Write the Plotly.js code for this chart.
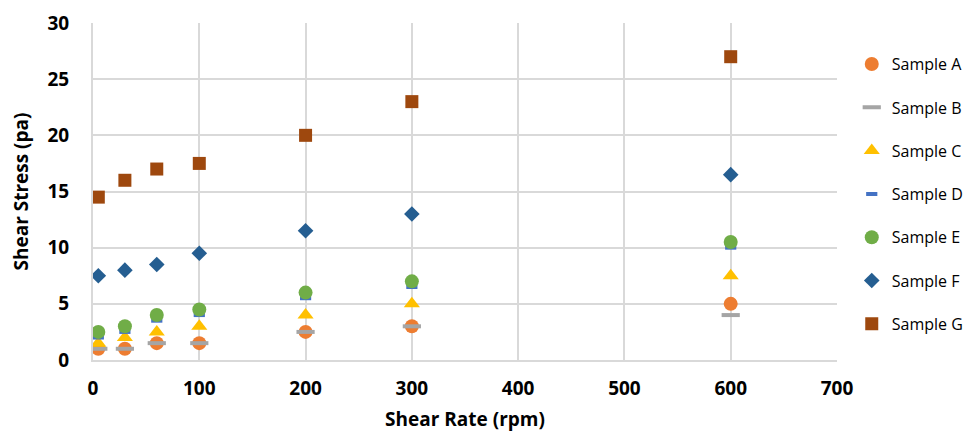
<!DOCTYPE html>
<html>
<head>
<meta charset="utf-8">
<script src="https://cdn.plot.ly/plotly-3.0.1.min.js"></script>
<style>html,body{margin:0;padding:0;background:#fff;}#chart{width:969px;height:432px;}</style>
</head>
<body>
<div id="chart"></div>
<script>
const shearRate = [5, 30, 60, 100, 200, 300, 600];
const sampleA = [1, 1, 1.5, 1.5, 2.5, 3, 5];
const sampleB = [1, 1, 1.5, 1.5, 2.5, 3, 4];
const sampleC = [1.5, 2, 2.5, 3, 4, 5, 7.5];
const sampleD = [2, 2.5, 3.5, 4, 5.5, 6.5, 10];
const sampleE = [2.5, 3, 4, 4.5, 6, 7, 10.5];
const sampleF = [7.5, 8, 8.5, 9.5, 11.5, 13, 16.5];
const sampleG = [14.5, 16, 17, 17.5, 20, 23, 27];
const seriesNames = ['Sample A','Sample B','Sample C','Sample D','Sample E','Sample F','Sample G'];
const xTicks = [0, 100, 200, 300, 400, 500, 600, 700];
const yTicks = [0, 5, 10, 15, 20, 25, 30];

const FONT = 'Open Sans, sans-serif';
function tr(name, ys, marker) {
  return {type:'scatter', mode:'markers', x: shearRate, y: ys, name: name,
          legendgroup: name, marker: marker, hoverinfo:'x+y'};
}
const data = [
  tr(seriesNames[0], sampleA, {symbol:'circle', size:14, color:'#ED7D31'}),
  tr(seriesNames[1], sampleB, {symbol:'line-ew', size:13, color:'#A5A5A5', line:{color:'#A5A5A5', width:4}}),
  tr(seriesNames[2], sampleC, {symbol:'triangle-up', size:14, color:'#FFC000'}),
  tr(seriesNames[3], sampleD, {symbol:'line-ew', size:8, color:'#4472C4', line:{color:'#4472C4', width:4}}),
  tr(seriesNames[4], sampleE, {symbol:'circle', size:14, color:'#70AD47'}),
  tr(seriesNames[5], sampleF, {symbol:'diamond', size:12, color:'#255E91'}),
  tr(seriesNames[6], sampleG, {symbol:'square', size:13, color:'#9E480E'})
];
const layout = {
  width: 969, height: 432,
  margin: {l:93, r:132, t:23, b:72},
  paper_bgcolor:'#fff', plot_bgcolor:'#fff',
  font: {family: FONT, color:'#000'},
  showlegend: true,
  legend: {xref:'container', yref:'container', x:0.879, xanchor:'left', y:0.891, yanchor:'top',
           tracegroupgap: 19.5, maxheight: 1,
           font:{family:FONT, size:16, color:'#000'}, bgcolor:'rgba(0,0,0,0)'},
  xaxis: {range:[0,700], tickvals:xTicks, ticktext:xTicks.map(String),
          showgrid:true, gridcolor:'#D9D9D9', gridwidth:2,
          showline:true, linecolor:'#D9D9D9', linewidth:2, zeroline:false,
          ticks:'outside', ticklen:10, tickcolor:'rgba(0,0,0,0)',
          tickfont:{family:FONT, size:19, color:'#000', weight:'bold'},
          title:{text:'Shear Rate (rpm)', standoff:17, font:{family:FONT, size:19, color:'#000', weight:'bold'}}},
  yaxis: {range:[0,30], tickvals:yTicks, ticktext:yTicks.map(String),
          showgrid:true, gridcolor:'#D9D9D9', gridwidth:2,
          showline:true, linecolor:'#D9D9D9', linewidth:2, zeroline:false,
          ticks:'outside', ticklen:18, tickcolor:'rgba(0,0,0,0)',
          tickfont:{family:FONT, size:19, color:'#000', weight:'bold'},
          title:{text:'Shear Stress (pa)', standoff:14, font:{family:FONT, size:19, color:'#000', weight:'bold'}}}
};
Plotly.newPlot('chart', data, layout, {displayModeBar:false, staticPlot:true});
</script>
</body>
</html>
